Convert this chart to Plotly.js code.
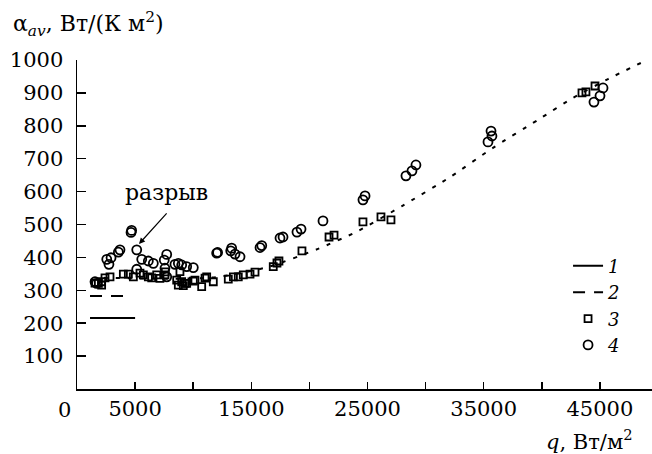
<!DOCTYPE html>
<html>
<head>
<meta charset="utf-8">
<script src="https://cdn.plot.ly/plotly-3.0.1.min.js"></script>
<style>html,body{margin:0;padding:0;background:#fff;}#chart{width:652px;height:454px;}</style>
</head>
<body>
<div id="chart"></div>
<script>
// Series 1: solid line
const line1Q = [1120, 5000];
const line1V = [216, 216];
// Series 2: dashed line
const line2Q = [1120, 4300];
const line2V = [283, 283];
// Dotted curve
const curveQ = [2300, 8000, 12000, 16460, 20740, 24010, 27970, 32100, 35800, 39670, 42690, 45700, 49050];
const curveV = [338, 335, 340, 371, 426, 477, 556, 644, 733, 818, 885, 942, 1000];
// Series 3: squares
const sqQ = [1550,1840,2120,2120,2410,2840,3990,4420,4850,5420,5710,6140,6430,6860,7140,7600,7570,8580,8860,8720,9010,9150,9300,9440,10010,10150,10730,11020,11160,11730,13020,13460,13880,14310,14890,15320,16890,17210,17380,19360,21690,22120,24610,26160,27020,43460,43800,44580];
const sqV = [322,321,326,316,338,341,349,349,341,352,347,341,338,347,336,356,347,331,357,316,326,314,321,321,328,331,311,337,341,326,334,341,341,347,349,355,372,383,389,420,462,468,508,523,514,900,903,921];
// Series 4: circles
const ciQ = [1550,1690,2560,2750,2930,3560,3700,4650,4700,5140,5140,5570,6140,6570,7510,7720,7570,7720,8430,8720,9010,9440,10010,12020,12100,13230,13310,13600,14030,15750,15900,17470,17730,18930,19280,21170,24610,24790,28310,28830,29170,35370,35630,35710,44490,45010,45270];
const ciV = [326,321,394,379,399,416,423,476,482,423,364,394,389,382,392,409,367,341,379,382,377,372,369,413,415,420,428,410,402,430,436,459,462,477,486,511,575,587,648,663,681,751,784,769,872,891,915];
// Tick labels
const xTickVals = [5000,10000,15000,20000,25000,30000,35000,40000,45000];
const xTickText = ['5000',' ','15000',' ','25000',' ','35000',' ','45000'];
const yTickVals = [100,200,300,400,500,600,700,800,900,1000];
const yTickText = ['100','200','300','400','500','600','700','800','900','1000'];

const FONT = 'DejaVu Serif';

const traces = [
  {x: line1Q, y: line1V, mode: 'lines', name: '<i>1</i>', line: {color: 'black', width: 2}},
  {x: line2Q, y: line2V, mode: 'lines', name: '<i>2</i>', line: {color: 'black', width: 2, dash: '12px,9px'}},
  {x: sqQ, y: sqV, mode: 'markers', name: '<i>3</i>', marker: {symbol: 'square-open', size: 7, color: 'black', line: {color: 'black', width: 1.8}}},
  {x: ciQ, y: ciV, mode: 'markers', name: '<i>4</i>', marker: {symbol: 'circle-open', size: 9, color: 'black', line: {color: 'black', width: 1.8}}},
  {x: curveQ, y: curveV, mode: 'lines', showlegend: false, line: {color: 'black', width: 2, dash: '4px,8px', shape: 'spline', smoothing: 0.6}}
];

const layout = {
  width: 652, height: 454,
  margin: {l: 77, r: 0, t: 60, b: 65},
  paper_bgcolor: 'white', plot_bgcolor: 'white',
  showlegend: true,
  font: {family: FONT, color: 'black', size: 20},
  legend: {x: 0.854, xanchor: 'left', y: 0.43, yanchor: 'top', bgcolor: 'rgba(0,0,0,0)',
           font: {family: FONT, size: 18, color: 'black'}, tracegroupgap: 0},
  xaxis: {range: [0, 49485], showline: true, linecolor: 'black', linewidth: 1.5,
          ticks: 'inside', ticklen: 7, tickwidth: 1.5, tickcolor: 'black',
          tickmode: 'array', tickvals: xTickVals, ticktext: xTickText,
          showgrid: false, zeroline: false, tickfont: {family: FONT, size: 21, color: 'black'}},
  yaxis: {range: [0, 1000], showline: true, linecolor: 'black', linewidth: 1.5,
          ticks: 'inside', ticklen: 9, tickwidth: 1.5, tickcolor: 'black',
          tickmode: 'array', tickvals: yTickVals, ticktext: yTickText,
          ticklabelstandoff: 8,
          showgrid: false, zeroline: false, tickfont: {family: FONT, size: 21, color: 'black'}},
  annotations: [
    {xref: 'paper', yref: 'paper', x: -0.0226, y: -0.064, text: '0', showarrow: false,
     xanchor: 'center', yanchor: 'middle', font: {family: FONT, size: 21, color: 'black'}},
    {xref: 'paper', yref: 'paper', x: -0.115, y: 1.11, text: 'α<sub><i>av</i></sub>, Вт/(К м<sup>2</sup>)', showarrow: false,
     xanchor: 'left', yanchor: 'middle', font: {family: FONT, size: 22, color: 'black'}},
    {xref: 'paper', yref: 'paper', x: 0.97, y: -0.155, text: '<i>q</i>, Вт/м<sup>2</sup>', showarrow: false,
     xanchor: 'right', yanchor: 'middle', font: {family: FONT, size: 21, color: 'black'}},
    {xref: 'x', yref: 'y', x: 7745, y: 596, text: 'разрыв', showarrow: false,
     xanchor: 'center', yanchor: 'middle', font: {family: FONT, size: 22, color: 'black'}},
    {xref: 'x', yref: 'y', x: 5336, y: 441, text: '', showarrow: true, ax: 29, ay: -32,
     arrowhead: 2, arrowsize: 1, arrowwidth: 1.2, arrowcolor: 'black'}
  ]
};

Plotly.newPlot('chart', traces, layout, {displayModeBar: false, staticPlot: true});
</script>
</body>
</html>
